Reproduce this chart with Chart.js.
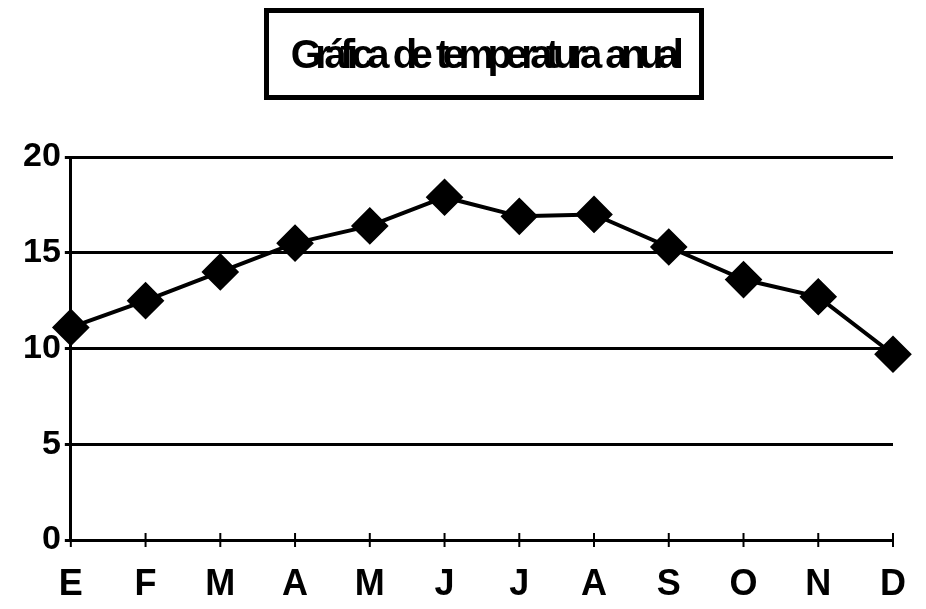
<!DOCTYPE html>
<html>
<head>
<meta charset="utf-8">
<script src="https://cdn.jsdelivr.net/npm/chart.js@4.4.1/dist/chart.umd.min.js"></script>
<style>
  html, body { margin: 0; padding: 0; background: #fff; }
  #wrap { position: relative; width: 926px; height: 609px; }
  #titleBox {
    position: absolute; left: 264px; top: 8px; width: 430px; height: 82px;
    border: 5px solid #000; display: flex; align-items: center; justify-content: center;
    font-family: "Liberation Sans", Arial, sans-serif; font-weight: bold; font-size: 40px;
    letter-spacing: -6.5px; word-spacing: 5px; white-space: nowrap; color: #000; box-sizing: content-box;
  }
</style>
</head>
<body>
<div id="wrap">
  <canvas id="chart"></canvas>
  <div id="titleBox">Gráfica de temperatura anual</div>
</div>
<script>
// months (Spanish initials) and monthly temperature
const months = ['E', 'F', 'M', 'A', 'M', 'J', 'J', 'A', 'S', 'O', 'N', 'D'];
const temps = [11.1, 12.5, 14.0, 15.5, 16.4, 17.9, 16.9, 17.0, 15.3, 13.6, 12.7, 9.7];
const yTicks = [0, 5, 10, 15, 20];

const fontFam = '"Liberation Sans", Arial, sans-serif';

// little cross ticks on the x axis
const crossTicks = {
  id: 'crossTicks',
  afterDraw(chart) {
    const c = chart.ctx;
    const xs = chart.scales.x;
    const y0 = chart.scales.y.getPixelForValue(0);
    c.save();
    c.strokeStyle = '#000';
    c.lineWidth = 2;
    for (let i = 0; i < months.length; i++) {
      const x = xs.getPixelForTick(i);
      c.beginPath();
      c.moveTo(x, y0 - 7);
      c.lineTo(x, y0 + 7);
      c.stroke();
    }
    c.restore();
  }
};

const ctx = document.getElementById('chart').getContext('2d');
const chart = new Chart(ctx, {
  type: 'line',
  data: {
    labels: months,
    datasets: [{
      data: temps,
      borderColor: '#000',
      backgroundColor: '#000',
      borderWidth: 4,
      pointStyle: 'rectRot',
      pointRadius: 16,
      pointHoverRadius: 16,
      tension: 0
    }]
  },
  options: {
    responsive: true,
    maintainAspectRatio: false,
    animation: false,
    layout: { padding: { top: 157, left: 19, right: 33, bottom: -13 } },
    plugins: { legend: { display: false }, tooltip: { enabled: false } },
    scales: {
      x: {
        offset: false,
        grid: { display: false },
        border: { color: '#000', width: 3 },
        ticks: { color: '#000', padding: 19, font: { family: fontFam, weight: 'bold', size: 36, lineHeight: 1 } }
      },
      y: {
        min: 0,
        max: 20,
        afterBuildTicks: axis => { axis.ticks = yTicks.map(v => ({ value: v })); },
        grid: { color: '#000', lineWidth: 3, tickLength: 6 },
        border: { color: '#000', width: 3 },
        ticks: { color: '#000', padding: 4, font: { family: fontFam, weight: 'bold', size: 34 } }
      }
    }
  },
  plugins: [crossTicks]
});
</script>
</body>
</html>
